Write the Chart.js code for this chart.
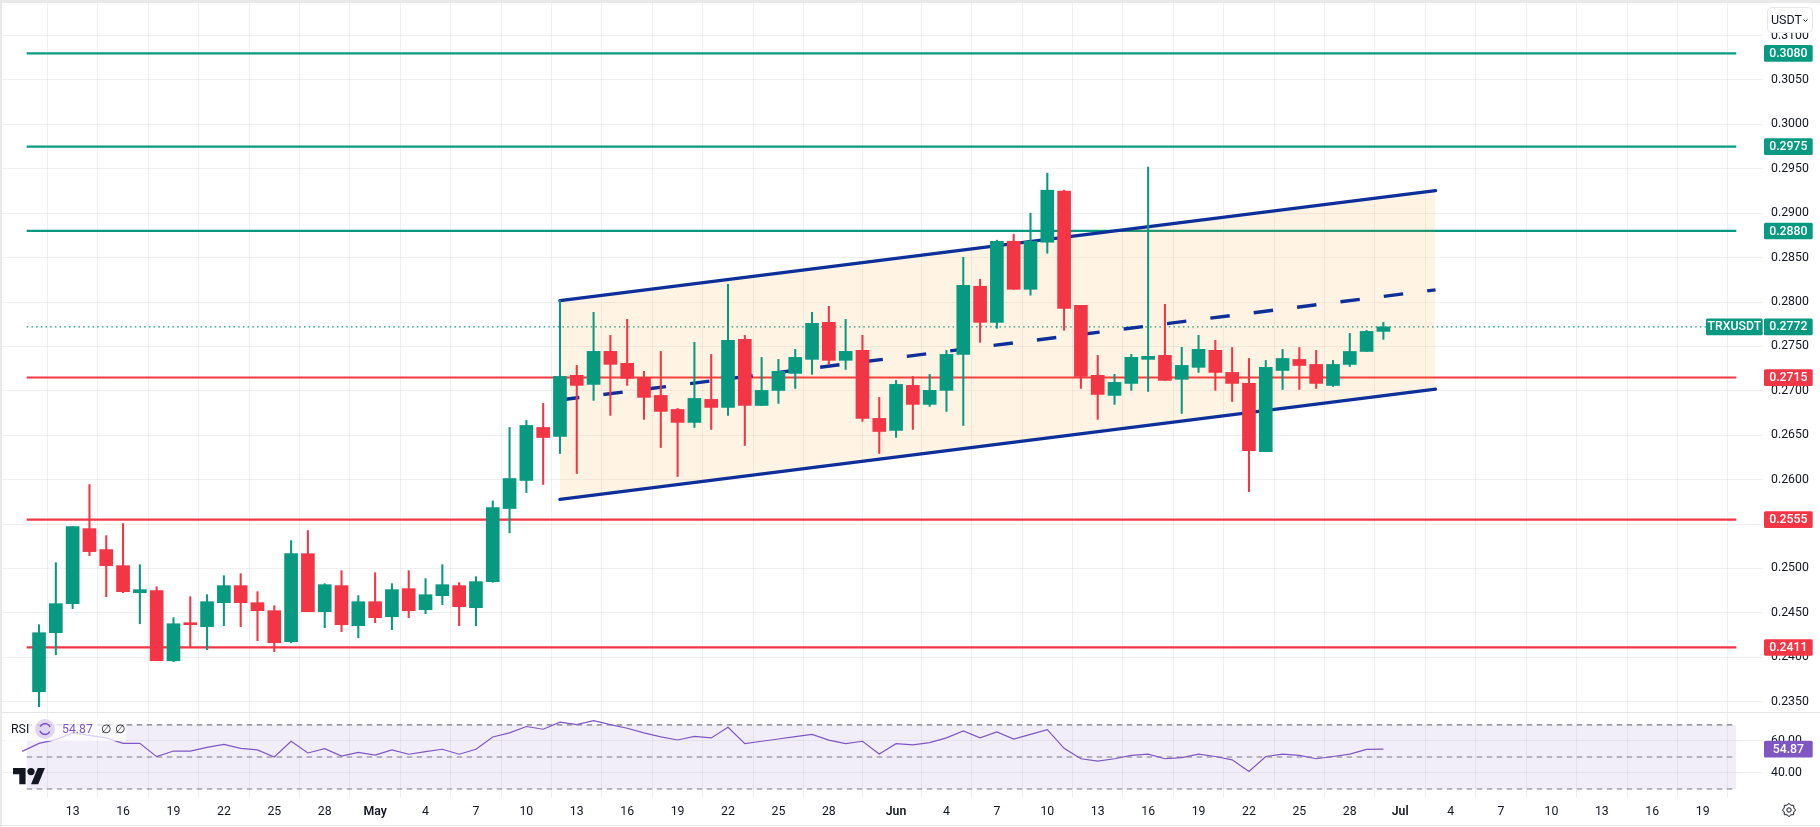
<!DOCTYPE html>
<html><head><meta charset="utf-8">
<style>html,body{margin:0;padding:0;background:#fff;overflow:hidden}#w{position:relative;width:1820px;height:827px}canvas{display:block}</style>
<script src="https://cdn.jsdelivr.net/npm/chart.js@4"></script>
</head><body><div id="w"><canvas id="c"></canvas></div>
<script>
// Daily candles, day 0 = 11 Apr, last = 30 Jun
const opens=[.23611,.24276,.24603,.25448,.25212,.25031,.24727,.24749,.2396,.24377,.24343,.24614,.24806,.24614,.24524,.24174,.25166,.24513,.24806,.24355,
.24625,.24456,.24772,.24535,.24693,.24806,.24558,.24851,.25674,.2599,.26587,.26486,.27174,.27072,.27444,.27309,.27151,.26948,.2679,.26644,.26903,.26813,.27579,.26835,.27004,.27196,.27354,.27771,.27343,.27456,.26689,
.26554,.27061,.26847,.27005,.2741,.28177,.27771,.28684,.28143,.28673,.29248,.27963,.27174,.26948,.27083,.27354,.27399,.27129,.27264,.27456,.27207,.27083,.26316,.27229,.27353,.27297,.2706,.27297,.27443,.27669];
const closes=[.24276,.24603,.25471,.25189,.25031,.24738,.24761,.2396,.24377,.24366,.24625,.24806,.24614,.24524,.24163,.25166,.24513,.24817,.24366,.24625,
.24445,.24761,.24524,.24704,.24817,.24569,.24851,.25685,.26012,.2661,.26474,.27162,.27061,.27444,.27298,.2714,.26926,.26768,.26644,.26914,.26813,.27568,.26835,.27004,.27219,.27376,.2776,.27343,.27444,.26689,.26542,
.27072,.26847,.27005,.2741,.28188,.27771,.28684,.28143,.28684,.29259,.27929,.27162,.26959,.27095,.27377,.27388,.27117,.27286,.27467,.27207,.27083,.26327,.27263,.27364,.27285,.27083,.27297,.27443,.27669,.2772];
const highs=[.24366,.25065,.25471,.25944,.25369,.25505,.25042,.24794,.24445,.24682,.24704,.24918,.24941,.24738,.2458,.25313,.25426,.24828,.24975,.24693,
.24952,.24828,.24975,.24885,.25042,.2484,.24907,.2576,.26587,.26666,.26858,.28019,.27286,.27884,.27624,.27805,.27219,.27444,.26801,.27546,.2741,.28199,.27624,.27376,.27354,.27467,.27884,.27951,.27805,.27625,.26925,
.27117,.27162,.27185,.27456,.28504,.28256,.28696,.28763,.29,.29451,.29259,.27963,.27399,.27185,.2741,.29519,.27974,.27489,.27625,.27568,.27488,.27364,.27342,.27466,.27488,.27455,.27342,.27646,.2768,.2777];
const lows=[.23442,.24028,.24546,.25144,.24682,.24727,.24377,.2396,.23949,.24118,.24084,.24355,.24343,.24186,.24062,.24163,.24513,.24332,.24287,.24219,
.24389,.2431,.24445,.2449,.24592,.24355,.24355,.24843,.2540,.25854,.25945,.26294,.26069,.26892,.26723,.27061,.26678,.26361,.26035,.26587,.26565,.26723,.26384,.26835,.26858,.27027,.27185,.27298,.27241,.26655,.26294,
.26475,.26565,.26824,.26768,.2661,.27546,.27704,.28143,.28076,.28549,.27681,.27027,.26678,.26847,.27005,.26993,.27117,.26745,.27207,.27005,.2688,.25865,.26316,.27015,.27015,.27026,.27049,.27274,.27443,.27579];
// RSI, starts one day before the first candle
const rsiValues=[53.5,58.5,60.8,65,63.5,61.9,58.5,58.5,50.2,53.7,53.7,56,57.9,55.4,54.4,50,59.8,52.5,55.2,50.6,52.9,51.2,54.4,51.7,53.3,54.8,51.7,54.8,62.5,65,69,67.3,71.7,70.2,72.7,70.2,67.9,65,62.5,60.6,62.9,61.9,
68.5,58.3,59.8,61.2,62.7,64.1,60.5,58.3,59.8,51.8,58.3,57.6,59,61.9,66.3,61.9,65.6,61.2,64.1,67,55.4,48.9,47.4,48.9,51,51.8,48.9,49.6,51.8,50.3,48.2,40.9,50.3,51.8,51,48.9,50.3,51.8,54.7,54.87];
const rsiLevels=[70,50,30];
const rsiTicks=[60,40];
const greenLevels=[.3080,.2975,.2880];
const redLevels=[.2715,.2555,.2411];
const lastPrice=.2772;
const symbolName="TRXUSDT";
const channelX=[31,83.1];
const channelTop=[.28015,.29254];
const channelMid=[.26897,.28137];
const channelBottom=[.25778,.27019];
const tickDays=[2,5,8,11,14,17,20,23,26,29,32,35,38,41,44,47,51,54,57,60,63,66,69,72,75,78,81,84,87,90,93,96,99];
const tickLabels=["13","16","19","22","25","28","May","4","7","10","13","16","19","22","25","28","Jun","4","7","10","13","16","19","22","25","28","Jul","4","7","10","13","16","19"];
const monthLabels=["May","Jun","Jul"];
const priceStep=.005, priceMin=.23373, priceMax=.31367, rsiMin=24.4, rsiMax=77.5;
const xMin=-.733, xMax=101;

const GREEN='#089981',RED='#F23645',BLUE='#0D2F99',PURPLE='#7E57C2',TXT='#131722',GRID='rgba(42,46,57,0.07)';
const FONT='Roboto, sans-serif';
const days=opens.map((_,i)=>i);
const colors=days.map(i=>closes[i]>=opens[i]?GREEN:RED);
const hline=(v,color,order,extra)=>Object.assign({type:'line',data:[{x:xMin,y:v},{x:xMax,y:v}],borderColor:color,borderWidth:2.2,pointRadius:0,order,yAxisID:'y'},extra||{});
const seg=(ys,extra)=>Object.assign({type:'line',data:channelX.map((x,i)=>({x,y:ys[i]})),pointRadius:0,borderColor:BLUE,borderWidth:3.4,order:12,yAxisID:'y'},extra||{});

const datasets=[
  ...greenLevels.map(v=>hline(v,GREEN,20)),
  ...redLevels.map(v=>hline(v,RED,20)),
  hline(lastPrice,GREEN,19,{borderWidth:1.1,borderDash:[1.5,3.2]}),
  seg(channelTop,{borderWidth:0,fill:'+1',backgroundColor:'rgba(255,152,0,0.105)',order:15}),
  seg(channelBottom,{borderWidth:0,order:15}),
  seg(channelTop,{borderCapStyle:'round'}),
  seg(channelBottom,{borderCapStyle:'round'}),
  seg(channelMid,{borderDash:[19.5,24.2]}),
  {type:'line',data:[{x:xMin,y:rsiLevels[0]},{x:xMax,y:rsiLevels[0]}],yAxisID:'yRsi',borderWidth:0,pointRadius:0,fill:'+1',backgroundColor:'rgba(126,87,194,0.1)',order:10},
  {type:'line',data:[{x:xMin,y:rsiLevels[2]},{x:xMax,y:rsiLevels[2]}],yAxisID:'yRsi',borderWidth:0,pointRadius:0,order:10},
  ...rsiLevels.map(v=>({type:'line',data:[{x:xMin,y:v},{x:xMax,y:v}],yAxisID:'yRsi',borderColor:'#787B86',borderWidth:1.1,borderDash:[5.5,4.5],pointRadius:0,order:9})),
  {type:'line',data:rsiValues.map((v,i)=>({x:i-1,y:v})),yAxisID:'yRsi',borderColor:PURPLE,borderWidth:1.2,pointRadius:0,tension:0,order:8},
  {type:'bar',data:days.map(i=>({x:i,y:[lows[i],highs[i]]})),backgroundColor:colors,barThickness:1.4,grouped:false,order:3,yAxisID:'y'},
  {type:'bar',data:days.map(i=>({x:i,y:[opens[i],closes[i]]})),backgroundColor:colors,barThickness:13,minBarLength:2,grouped:false,order:2,yAxisID:'y'}
];

const overlay={id:'overlay',afterDraw(chart){
  const c=chart.ctx,y=chart.scales.y,r=chart.scales.yRsi,a=chart.chartArea;
  window.__area={a,yt:y.top,yb:y.bottom,rt:r.top,rb:r.bottom};
  c.save();
  // frame and pane separators
  c.fillStyle='#E9E9EA';c.fillRect(0,0,1820,3);c.fillRect(0,0,2,827);
  c.fillStyle='#E6E6E8';c.fillRect(2,712,1818,1);c.fillRect(0,825,1820,1);
  // tags
  const tag=(yp,txt,col,x0,w)=>{c.fillStyle=col;c.beginPath();c.roundRect(x0,yp-8.3,w,16.7,1.5);c.fill();
    c.fillStyle='#fff';c.font='500 12.3px '+FONT;c.textAlign='center';c.textBaseline='middle';c.fillText(txt,x0+w/2,yp+.5);};
  greenLevels.forEach(v=>tag(y.getPixelForValue(v),v.toFixed(4),GREEN,1764,48.7));
  redLevels.forEach(v=>tag(y.getPixelForValue(v),v.toFixed(4),RED,1764,48.7));
  const ly=y.getPixelForValue(lastPrice);
  tag(ly,symbolName,GREEN,1706,56.7);tag(ly,lastPrice.toFixed(4),GREEN,1764,48.7);
  const rv=rsiValues[rsiValues.length-1];
  tag(r.getPixelForValue(rv),rv.toFixed(2),PURPLE,1764,48.7);
  // USDT button
  c.fillStyle='#fff';c.strokeStyle='#E6E6E8';c.lineWidth=1;c.beginPath();c.roundRect(1767.5,7.5,45,25,4);c.fill();c.stroke();
  c.fillStyle=TXT;c.font='12.5px '+FONT;c.textAlign='left';c.textBaseline='middle';c.fillText('USDT',1771,20.5);
  c.strokeStyle=TXT;c.lineWidth=1;c.beginPath();c.moveTo(1803.5,19.5);c.lineTo(1805.5,21.5);c.lineTo(1807.5,19.5);c.stroke();
  // RSI legend
  c.fillStyle='rgba(255,255,255,0.72)';c.fillRect(5,717,121,24);
  c.fillStyle=TXT;c.font='12.3px '+FONT;c.fillText('RSI',11,729.5);
  c.fillStyle='rgba(126,87,194,0.22)';c.beginPath();c.arc(45,729,10,0,7);c.fill();
  c.strokeStyle=PURPLE;c.lineWidth=1.6;c.beginPath();c.arc(45,729,5.4,.5,2.8);c.stroke();c.beginPath();c.arc(45,729,5.4,3.6,5.9);c.stroke();
  c.fillStyle=PURPLE;c.fillText(rv.toFixed(2),62,729.5);
  c.fillStyle=TXT;c.fillText('∅',101,729.5);c.fillText('∅',115,729.5);
  // TV logo
  c.save();c.translate(13,764.4);c.scale(.9,.9);c.fillStyle=TXT;
  c.fill(new Path2D('M14 22H7V11H0V4h14v18zM28 22h-8l7.5-18h8L28 22z'));c.beginPath();c.arc(20,8,4,0,7);c.fill();c.restore();
  // settings gear
  c.strokeStyle=TXT;c.lineWidth=1;c.beginPath();c.arc(1789,810,2.2,0,7);c.stroke();
  c.beginPath();for(let i=0;i<=16;i++){const t=i*Math.PI/8,R=i%2?5.2:6.6;c[i?'lineTo':'moveTo'](1789+R*Math.cos(t),810+R*Math.sin(t));}c.stroke();
  c.restore();
}};
const noPadX=ax=>{ax.paddingLeft=0;ax.paddingRight=0;};
const noPadY=ax=>{ax.paddingTop=0;ax.paddingBottom=0;};

new Chart(document.getElementById('c'),{
  data:{datasets},
  plugins:[overlay],
  options:{
    responsive:true,maintainAspectRatio:false,animation:false,devicePixelRatio:1,
    layout:{padding:{top:3,left:0,right:0,bottom:0}},
    plugins:{legend:{display:false},tooltip:{enabled:false}},
    scales:{
      x:{type:'linear',position:'bottom',min:xMin,max:xMax,
        afterBuildTicks(ax){ax.ticks=tickDays.map(v=>({value:v}));},
        afterFit(ax){ax.height=29;noPadX(ax);},
        grid:{color:GRID,drawTicks:false},border:{display:false},
        ticks:{autoSkip:false,maxRotation:0,padding:7,color:TXT,
          callback:(v,i)=>tickLabels[i],
          font:ctx=>({family:FONT,size:12.3,weight:monthLabels.includes(tickLabels[ctx.index])?'600':'400'})}},
      y:{type:'linear',position:'right',stack:'p',stackWeight:709,min:priceMin,max:priceMax,
        afterFit(ax){ax.width=57;noPadY(ax);},
        grid:{color:GRID,drawTicks:false},border:{display:false},
        ticks:{stepSize:priceStep,includeBounds:false,padding:8,color:TXT,font:{family:FONT,size:12.3},callback:v=>v.toFixed(4)}},
      yRsi:{type:'linear',position:'right',stack:'p',stackWeight:85,min:rsiMin,max:rsiMax,
        afterBuildTicks(ax){ax.ticks=rsiTicks.map(v=>({value:v}));},
        afterFit(ax){ax.width=57;noPadY(ax);},
        grid:{color:GRID,drawTicks:false},border:{display:false},
        ticks:{padding:8,color:TXT,font:{family:FONT,size:12.3},callback:v=>v.toFixed(2)}}
    }
  }
});
</script></body></html>
